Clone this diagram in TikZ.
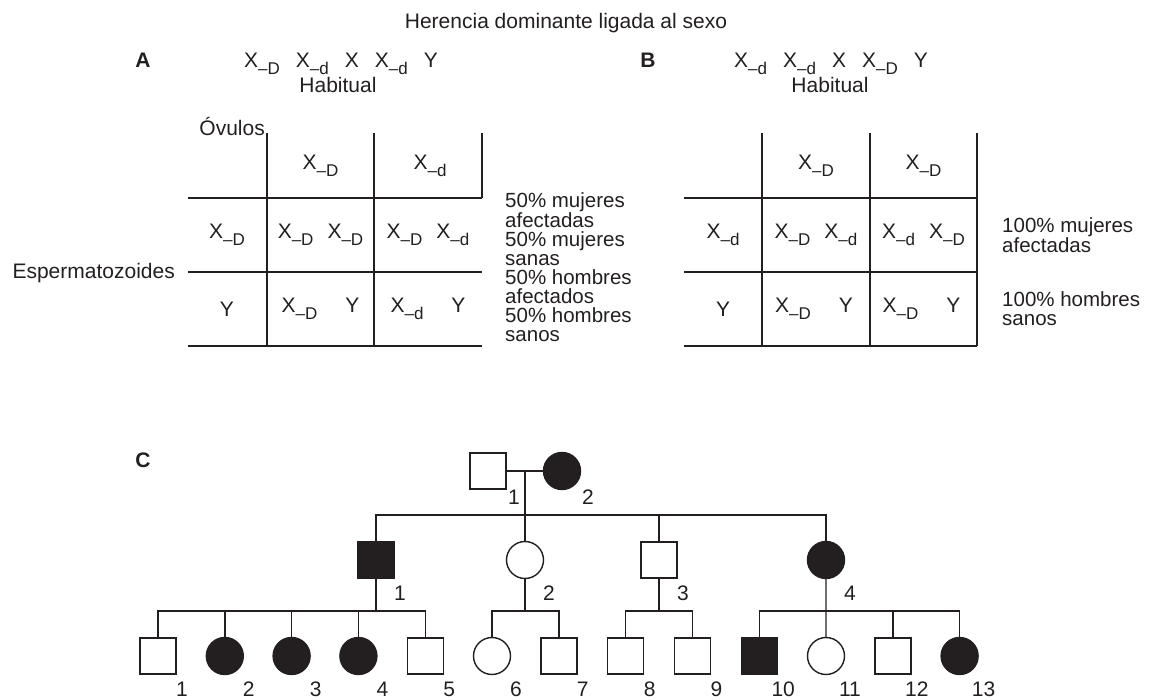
\documentclass[tikz,border=0pt]{standalone}
\usepackage{fontspec}
\setmainfont{Liberation Sans}
\usepackage{tikz}
\usetikzlibrary{calc}
\definecolor{ink}{HTML}{231F20}
\newcommand{\Xs}[1]{X\raisebox{-0.33em}{\fontsize{17}{17}\selectfont –#1}}
\tikzset{
  txt/.style={font=\fontsize{21}{21}\selectfont, inner sep=0pt, text=ink},
  hdr/.style={txt, font=\fontsize{21}{21}\selectfont\bfseries},
  note/.style={txt, align=left, anchor=north west, font=\fontsize{20.5}{19}\selectfont},
  grid/.style={draw=ink, line width=1.4pt},
  link/.style={draw=ink, line width=1.4pt},
  male/.style={rectangle, draw=ink, line width=1.4pt, minimum size=36pt, inner sep=0pt},
  female/.style={circle, draw=ink, line width=1.4pt, minimum size=37pt, inner sep=0pt},
  maleA/.style={male, fill=ink},
  femaleA/.style={female, fill=ink},
  num/.style={txt},
}

\begin{document}
\begin{tikzpicture}[x=1pt, y=1pt]
  \useasboundingbox (0,0) rectangle (1150,699);

  \node[txt, anchor=base] (title) at (566,670) {Herencia dominante ligada al sexo};

  % panel A
  \node[hdr, anchor=base] (lblA) at (143,631) {A};
  \node[txt, anchor=base west] (genoA) at (244,631) {\Xs{D}\hspace{16pt}\Xs{d}\hspace{16pt}X\hspace{16pt}\Xs{d}\hspace{16pt}Y};
  \node[txt, anchor=base] (habA) at (338,606) {Habitual};
  \node[txt, anchor=base east] (ovulos) at (265,563) {Óvulos};
  \node[txt, anchor=base east] (esperm) at (175,420) {Espermatozoides};
  \draw[grid] (188,501) -- (482,501) (188,427) -- (482,427) (188,353) -- (482,353);
  \draw[grid] (267,566) -- (267,353) (374,566) -- (374,353) (482,566) -- (482,501);
  \node[txt] (a-c1) at (320.5,533) {\Xs{D}};
  \node[txt] (a-c2) at (430,533) {\Xs{d}};
  \node[txt] (a-r1) at (227,464) {\Xs{D}};
  \node[txt] (a-11) at (320.5,464) {\Xs{D}\hspace{14pt}\Xs{D}};
  \node[txt] (a-12) at (428,464) {\Xs{D}\hspace{14pt}\Xs{d}};
  \node[txt] (a-r2) at (227,390) {Y};
  \node[txt] (a-21) at (320.5,390) {\Xs{D}\hspace{28pt}Y};
  \node[txt] (a-22) at (428,390) {\Xs{d}\hspace{28pt}Y};
  \node[note] (a-note) at (505,507) {50\% mujeres\\afectadas\\50\% mujeres\\sanas\\50\% hombres\\afectados\\50\% hombres\\sanos};

  % panel B
  \node[hdr, anchor=base] (lblB) at (648,631) {B};
  \node[txt, anchor=base west] (genoB) at (734,631) {\Xs{d}\hspace{16pt}\Xs{d}\hspace{16pt}X\hspace{16pt}\Xs{D}\hspace{16pt}Y};
  \node[txt, anchor=base] (habB) at (830,606) {Habitual};
  \draw[grid] (684,501) -- (977,501) (684,427) -- (977,427) (684,353) -- (977,353);
  \draw[grid] (762,566) -- (762,353) (870,566) -- (870,353) (977,566) -- (977,353);
  \node[txt] (b-c1) at (816,533) {\Xs{D}};
  \node[txt] (b-c2) at (923.5,533) {\Xs{D}};
  \node[txt] (b-r1) at (723,464) {\Xs{d}};
  \node[txt] (b-11) at (816,464) {\Xs{D}\hspace{14pt}\Xs{d}};
  \node[txt] (b-12) at (923.5,464) {\Xs{d}\hspace{14pt}\Xs{D}};
  \node[txt] (b-r2) at (723,390) {Y};
  \node[txt] (b-21) at (814,390) {\Xs{D}\hspace{28pt}Y};
  \node[txt] (b-22) at (921.5,390) {\Xs{D}\hspace{28pt}Y};
  \node[note] (b-note1) at (1002,482) {100\% mujeres\\afectadas};
  \node[note] (b-note2) at (1002,408) {100\% hombres\\sanos};

  % panel C: pedigree
  \node[hdr, anchor=base] (lblC) at (143,231) {C};
  \node[male] (p1) at (488,228) {};
  \node[femaleA] (p2) at (562,228) {};
  \draw[link] (p1) -- (p2);
  \coordinate (m0) at ($(p1)!0.5!(p2)$);
  \coordinate (s0) at ($(m0)+(0,-44)$);
  \node[num] at ($(m0)+(-11,-26)$) {1};
  \node[num] at ($(p2)+(26,-26)$) {2};

  \node[maleA] (q1) at (376,139) {};
  \node[female] (q2) at (m0 |- q1) {};
  \node[male] (q3) at (659,139) {};
  \node[femaleA] (q4) at (826,139) {};
  \draw[link] (m0) -- (q2);
  \draw[link] (q1.north) -- (q1.north |- s0) -- (q4.north |- s0) -- (q4.north);
  \draw[link] (q3.north) -- (q3.north |- s0);
  \foreach \g/\n in {q1/1, q2/2, q3/3, q4/4}
    \node[num] at ($(\g)+(24,-33)$) {\n};

  \foreach \i/\sty in {1/male, 2/femaleA, 3/femaleA, 4/femaleA, 5/male, 6/female, 7/male,
                       8/male, 9/male, 10/maleA, 11/female, 12/male, 13/femaleA} {
    \node[\sty] (k\i) at ({158+66.8*(\i-1)},43) {};
    \node[num, anchor=base] (n\i) at ($(k\i)+(24,-40)$) {\i};
  }

  % sibship lines
  \coordinate (s1) at ($(q1)+(0,-51)$);
  \draw[link] (q1) -- (s1);
  \draw[link] (k1.north) |- (s1) -| (k5.north);
  \foreach \i in {2,3,4}
    \draw[link] (k\i.north) -- (k\i.north |- s1);
  \coordinate (s2) at (q2 |- s1);
  \draw[link] (q2) -- (s2);
  \draw[link] (k6.north) |- (s2) -| (k7.north);
  \coordinate (s3) at (q3 |- s1);
  \draw[link] (q3) -- (s3);
  \draw[link] (k8.north) |- (s3) -| (k9.north);
  \coordinate (s4) at (q4 |- s1);
  \draw[link] (q4) -- (k11);
  \draw[link] (k10.north) |- (s4) -| (k13.north);
  \draw[link] (k12.north) -- (k12.north |- s4);
\end{tikzpicture}
\end{document}
